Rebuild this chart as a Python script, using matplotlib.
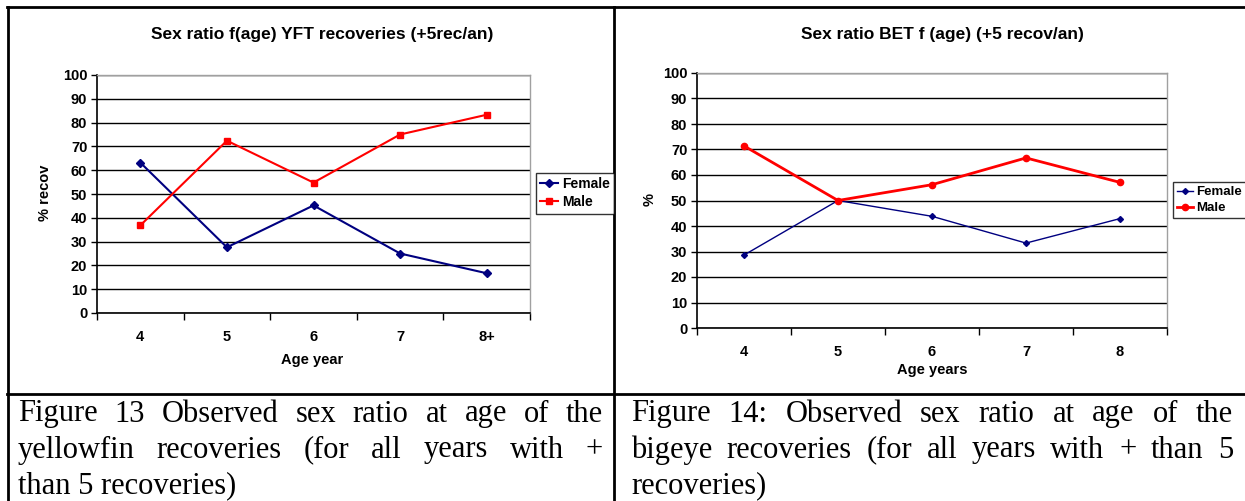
import matplotlib
matplotlib.use("Agg")
import matplotlib.pyplot as plt
from matplotlib.lines import Line2D

# ---- data ----
yft_ages = ["4", "5", "6", "7", "8+"]
yft_female = [63.2, 27.6, 45.2, 25.0, 16.7]
yft_male = [36.8, 72.4, 54.8, 75.0, 83.3]

bet_ages = ["4", "5", "6", "7", "8"]
bet_female = [28.6, 50.0, 43.8, 33.3, 42.9]
bet_male = [71.4, 50.0, 56.2, 66.7, 57.1]

y_ticks = list(range(0, 101, 10))

caption_left = ["Figure  13 Observed sex ratio at age of the",
                "yellowfin recoveries (for all years with +",
                "than 5 recoveries)"]
caption_right = ["Figure  14: Observed sex ratio at age of the",
                 "bigeye recoveries (for all years with + than 5",
                 "recoveries)"]

W, H = 1245, 501
NAVY = "#000080"
RED = "#FF0000"
SANS = "Liberation Sans"
SERIF = "Liberation Serif"

fig = plt.figure(figsize=(W / 100, H / 100), dpi=100)
fig.patch.set_facecolor("white")


def px_axes(left, top, right, bottom):
    return fig.add_axes([left / W, 1 - bottom / H, (right - left) / W, (bottom - top) / H])


def fx(x):
    return x / W


def fy(y):
    return 1 - y / H


def style_chart(ax, ages):
    n = len(ages)
    ax.set_xlim(-0.5, n - 0.5)
    ax.set_ylim(0, 100)
    ax.set_yticks(y_ticks)
    ax.set_yticklabels([str(v) for v in y_ticks], fontfamily=SANS, fontweight="bold", fontsize=10.5)
    ax.set_xticks(range(n))
    ax.set_xticklabels(ages, fontfamily=SANS, fontweight="bold", fontsize=10.5)
    ax.set_xticks([i - 0.5 for i in range(n + 1)], minor=True)
    ax.tick_params(axis="x", which="major", length=0, pad=12)
    ax.tick_params(axis="x", which="minor", length=5, width=1, direction="out", color="black")
    ax.tick_params(axis="y", length=4, width=1, direction="out", pad=3)
    ax.grid(axis="y", color="black", linewidth=1)
    ax.set_axisbelow(True)
    for s in ["top", "right"]:
        ax.spines[s].set_color("#a0a0a0")
        ax.spines[s].set_linewidth(1)
    for s in ["left", "bottom"]:
        ax.spines[s].set_color("black")
        ax.spines[s].set_linewidth(1.2)


def add_legend(ax, x, y, size, hl):
    leg = fig.legend(handles=ax.get_lines(), loc="upper left", bbox_to_anchor=(fx(x), fy(y)),
                     prop={"family": SANS, "weight": "bold", "size": size}, frameon=True, fancybox=False,
                     handlelength=hl, handletextpad=0.25, borderpad=0.3, labelspacing=0.3,
                     borderaxespad=0)
    leg.get_frame().set_edgecolor("black")
    leg.get_frame().set_linewidth(1)


# ---- left chart (yellowfin) ----
ax1 = px_axes(97, 75, 530, 313)
x1 = range(len(yft_ages))
ax1.plot(x1, yft_female, color=NAVY, lw=1.5, marker="D", ms=4.5, label="Female", clip_on=False)
ax1.plot(x1, yft_male, color=RED, lw=1.5, marker="s", ms=5, label="Male", clip_on=False)
style_chart(ax1, yft_ages)
fig.text(fx(322), fy(35), "Sex ratio f(age) YFT recoveries (+5rec/an)", ha="center", va="center",
         fontfamily=SANS, fontweight="bold", fontsize=12.5)
fig.text(fx(312), fy(360), "Age year", ha="center", va="center",
         fontfamily=SANS, fontweight="bold", fontsize=10.5)
fig.text(fx(45), fy(193), "% recov", ha="center", va="center", rotation=90,
         fontfamily=SANS, fontweight="bold", fontsize=10.5)
add_legend(ax1, 536, 173, 10, 1.3)

# ---- right chart (bigeye) ----
ax2 = px_axes(697, 73, 1167, 328)
x2 = range(len(bet_ages))
ax2.plot(x2, bet_female, color=NAVY, lw=1, marker="D", ms=3, label="Female", clip_on=False)
ax2.plot(x2, bet_male, color=RED, lw=2, marker="o", ms=4.5, label="Male", clip_on=False)
style_chart(ax2, bet_ages)
fig.text(fx(942), fy(34), "Sex ratio BET f (age) (+5 recov/an)", ha="center", va="center",
         fontfamily=SANS, fontweight="bold", fontsize=12.5)
fig.text(fx(932), fy(370), "Age years", ha="center", va="center",
         fontfamily=SANS, fontweight="bold", fontsize=10.5)
fig.text(fx(650), fy(200), "%", ha="center", va="center", rotation=90,
         fontfamily=SANS, fontweight="bold", fontsize=10.5)
add_legend(ax2, 1173, 182, 9.5, 1.2)

# ---- table borders ----
for xs, ys in [([7, W], [7, 7]), ([7, W], [394, 394]), ([8, 8], [7, H]), ([614, 614], [7, H])]:
    fig.add_artist(Line2D([fx(v) for v in xs], [fy(v) for v in ys], color="black", lw=2))

# ---- justified captions ----
renderer = fig.canvas.get_renderer()


def justified(lines, x0, x1, y0, step, size=22):
    for i, line in enumerate(lines):
        y = fy(y0 + i * step)
        words = line.split()
        if i == len(lines) - 1:
            fig.text(fx(x0), y, line, ha="left", va="center", fontfamily=SERIF, fontsize=size)
            continue
        texts = [fig.text(0, y, w, ha="left", va="center", fontfamily=SERIF, fontsize=size) for w in words]
        widths = [t.get_window_extent(renderer).width for t in texts]
        gap = (x1 - x0 - sum(widths)) / (len(words) - 1)
        x = x0
        for t, w in zip(texts, widths):
            t.set_x(fx(x))
            x += w + gap


justified(caption_left, 18, 603, 414, 36)
justified(caption_right, 631, 1233, 414, 36)

fig.savefig("out.png", dpi=100)
